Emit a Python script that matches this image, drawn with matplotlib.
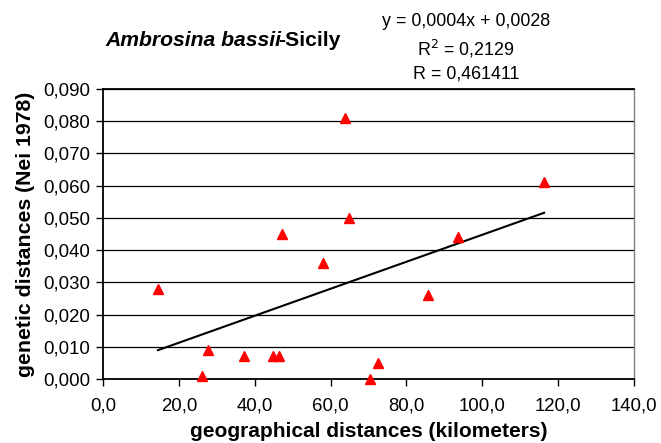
import numpy as np
import matplotlib
matplotlib.use("Agg")
import matplotlib.pyplot as plt
from matplotlib.ticker import FuncFormatter, MultipleLocator

plt.rcParams['font.family'] = ['Liberation Sans', 'DejaVu Sans']

geo_km = [14.5, 26.2, 27.6, 37.2, 44.8, 46.3, 47.2, 58.0, 63.8, 64.8, 70.5, 72.5, 85.6, 93.5, 116.3]
nei_dist = [0.028, 0.001, 0.009, 0.007, 0.007, 0.007, 0.045, 0.036, 0.081, 0.050, 0.000, 0.005, 0.026, 0.044, 0.061]

title_italic = "Ambrosina bassii"
title_plain = "-Sicily"
eq_lines = ["y = 0,0004x + 0,0028", r"R$^2$ = 0,2129", "R = 0,461411"]
xlabel = "geographical distances (kilometers)"
ylabel = "genetic distances (Nei 1978)"

fig = plt.figure(figsize=(6.61, 4.43), dpi=100)
ax = fig.add_axes([103/661, 1-379/443, (634-103)/661, (379-89)/443])

ax.set_xlim(0, 140)
ax.set_ylim(0, 0.09)
ax.xaxis.set_major_locator(MultipleLocator(20))
ax.yaxis.set_major_locator(MultipleLocator(0.01))
ax.xaxis.set_major_formatter(FuncFormatter(lambda v, p: f"{v:.1f}".replace('.', ',')))
ax.yaxis.set_major_formatter(FuncFormatter(lambda v, p: f"{v:.3f}".replace('.', ',')))
ax.grid(axis='y', color='black', linewidth=0.9)
ax.set_axisbelow(True)
for s in ['left', 'bottom', 'top']:
    ax.spines[s].set_color('black')
    ax.spines[s].set_linewidth(1.3)
ax.spines['right'].set_color('#808080')
ax.spines['right'].set_linewidth(1.0)
ax.tick_params(direction='out', length=5, width=1, labelsize=13.4, colors='black')
ax.tick_params(axis='x', pad=8)
ax.tick_params(axis='y', pad=4)

x = np.array(geo_km)
y = np.array(nei_dist)
m, b = np.polyfit(x, y, 1)
xs = np.array([x.min(), x.max()])
ax.plot(xs, m*xs + b, color='black', linewidth=1.5, zorder=3)
ax.plot(x, y, linestyle='none', marker='^', color='#ff0000', markersize=6.8, zorder=4, clip_on=False)

ax.set_xlabel(xlabel, fontsize=15, fontweight='bold', labelpad=5.5)
ax.set_ylabel(ylabel, fontsize=15.3, fontweight='bold', labelpad=6)

t1 = fig.text(105/661, 1-40/443, title_italic, fontsize=15.2, fontweight='bold', style='italic', va='center', ha='left')
fig.canvas.draw()
ax.annotate(title_plain, xy=(1, 0.5), xycoords=t1, xytext=(-2, 0), textcoords='offset points',
            va='center', ha='left', fontsize=15.2, fontweight='bold', annotation_clip=False)

for yy, line in zip([22, 49, 74], eq_lines):
    fig.text(466/661, 1-yy/443, line, fontsize=12.9, ha='center', va='center')

fig.savefig("out.png", dpi=100)
